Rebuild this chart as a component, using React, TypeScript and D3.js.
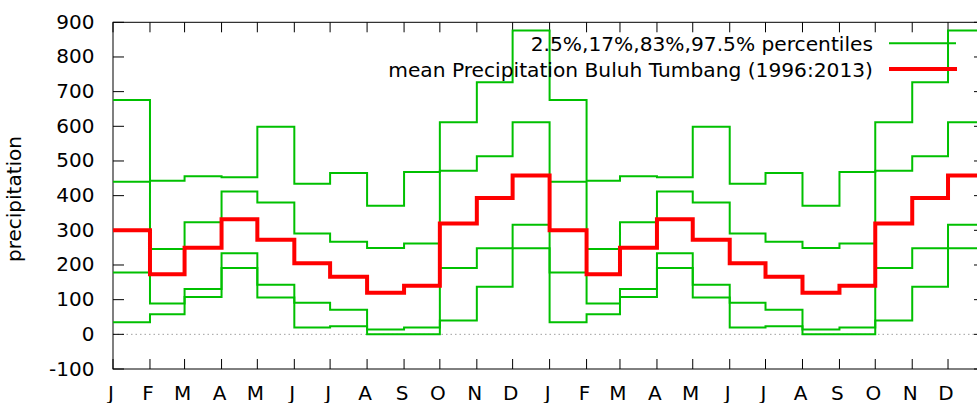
import { useEffect, useRef } from "react";
import * as d3 from "d3";

// monthly climatology, Buluh Tumbang 1996-2013
const monthLabels = ["J", "F", "M", "A", "M", "J", "J", "A", "S", "O", "N", "D"];
const p975 = [676, 443, 456, 453, 599, 434, 465, 371, 468, 612, 727, 876];
const p83 = [440, 246, 323, 412, 380, 291, 267, 249, 262, 472, 514, 612];
const p17 = [178, 89, 131, 234, 143, 91, 71, 14, 20, 191, 248, 316];
const p025 = [35, 58, 108, 191, 106, 20, 23, 0, 0, 40, 137, 248];
const meanPrecip = [300, 173, 250, 332, 273, 205, 166, 120, 140, 320, 393, 458];
const yTicks = [-100, 0, 100, 200, 300, 400, 500, 600, 700, 800, 900];

const legendPct = "2.5%,17%,83%,97.5% percentiles";
const legendMean = "mean Precipitation Buluh Tumbang (1996:2013)";

type Pt = { date: Date; value: number };

// repeat the 12 months over two years, plus an end point so the last step is drawn
const toSteps = (vals: number[]): Pt[] => {
  const pts: Pt[] = [];
  for (let i = 0; i < 24; i++) {
    pts.push({ date: new Date(Date.UTC(2000 + Math.floor(i / 12), i % 12, 1)), value: vals[i % 12] });
  }
  pts.push({ date: new Date(Date.UTC(2002, 0, 1)), value: vals[11] });
  return pts;
};

const PrecipChart = () => {
  const svgRef = useRef<SVGSVGElement>(null);

  useEffect(() => {
    const svg = d3.select(svgRef.current);
    svg.selectAll("*").remove();

    const width = 977;
    const height = 403;
    const left = 113;
    const right = 985; // border sits just past the window edge
    const top = 22.3;
    const bottom = 369;
    const font = "'DejaVu Sans', sans-serif";
    const green = "#00c000";
    const red = "#ff0000";

    svg.attr("width", width).attr("height", height);

    const x = d3.scaleUtc()
      .domain([new Date(Date.UTC(2000, 0, 1)), new Date(Date.UTC(2002, 0, 1))])
      .range([left, right]);
    const y = d3.scaleLinear().domain([-100, 900]).range([bottom, top]);

    // zero line
    svg.append("line")
      .attr("x1", left).attr("x2", right)
      .attr("y1", y(0)).attr("y2", y(0))
      .attr("stroke", "#a0a0a0")
      .attr("stroke-width", 1)
      .attr("stroke-dasharray", "1.5,3");

    // border
    svg.append("rect")
      .attr("x", left).attr("y", top)
      .attr("width", right - left).attr("height", bottom - top)
      .attr("fill", "none")
      .attr("stroke", "#000")
      .attr("stroke-width", 1);

    // y ticks + labels
    const yg = svg.append("g");
    yTicks.forEach((t) => {
      yg.append("line")
        .attr("x1", left).attr("x2", left + 11)
        .attr("y1", y(t)).attr("y2", y(t))
        .attr("stroke", "#000");
      yg.append("line")
        .attr("x1", right - 11).attr("x2", right)
        .attr("y1", y(t)).attr("y2", y(t))
        .attr("stroke", "#000");
      yg.append("text")
        .attr("x", 94.5)
        .attr("y", y(t) + 6.5)
        .attr("text-anchor", "end")
        .style("font-family", font)
        .style("font-size", "20px")
        .attr("fill", "#000")
        .text(t);
    });

    // x ticks: month starts over two years
    const monthStarts = x.ticks(d3.utcMonth.every(1)!).filter((d) => d < x.domain()[1]);
    const xg = svg.append("g");
    monthStarts.forEach((d) => {
      const px = x(d);
      xg.append("line")
        .attr("x1", px).attr("x2", px)
        .attr("y1", bottom).attr("y2", bottom - 10)
        .attr("stroke", "#000");
      xg.append("line")
        .attr("x1", px).attr("x2", px)
        .attr("y1", top).attr("y2", top + 10)
        .attr("stroke", "#000");
      xg.append("text")
        .attr("x", px - 2)
        .attr("y", 399.5)
        .attr("text-anchor", "middle")
        .style("font-family", font)
        .style("font-size", "20px")
        .attr("fill", "#000")
        .text(monthLabels[d.getUTCMonth()]);
    });

    // y axis label
    svg.append("text")
      .attr("transform", `translate(20.5, 199) rotate(-90)`)
      .attr("text-anchor", "middle")
      .style("font-family", font)
      .style("font-size", "20px")
      .attr("fill", "#000")
      .text("precipitation");

    const line = d3.line<Pt>()
      .x((d) => x(d.date))
      .y((d) => y(d.value))
      .curve(d3.curveStepAfter);

    // percentile steps
    [p975, p83, p17, p025].forEach((vals) => {
      svg.append("path")
        .datum(toSteps(vals))
        .attr("d", line)
        .attr("fill", "none")
        .attr("stroke", green)
        .attr("stroke-width", 2);
    });

    // mean
    svg.append("path")
      .datum(toSteps(meanPrecip))
      .attr("d", line)
      .attr("fill", "none")
      .attr("stroke", red)
      .attr("stroke-width", 4);

    // legend
    const lg = svg.append("g");
    lg.append("text")
      .attr("x", 873).attr("y", 50.5)
      .attr("text-anchor", "end")
      .style("font-family", font)
      .style("font-size", "20.2px")
      .attr("fill", "#000")
      .text(legendPct);
    lg.append("line")
      .attr("x1", 889).attr("x2", 956)
      .attr("y1", 43.3).attr("y2", 43.3)
      .attr("stroke", green).attr("stroke-width", 2);
    lg.append("text")
      .attr("x", 873).attr("y", 76.5)
      .attr("text-anchor", "end")
      .style("font-family", font)
      .style("font-size", "20.2px")
      .attr("fill", "#000")
      .text(legendMean);
    lg.append("line")
      .attr("x1", 889).attr("x2", 957)
      .attr("y1", 69).attr("y2", 69)
      .attr("stroke", red).attr("stroke-width", 4);
  }, []);

  return (
    <svg
      ref={svgRef}
      style={{ position: "absolute", left: 0, top: 0, display: "block", background: "#fff" }}
    ></svg>
  );
};

export default function App() {
  return <PrecipChart />;
}
